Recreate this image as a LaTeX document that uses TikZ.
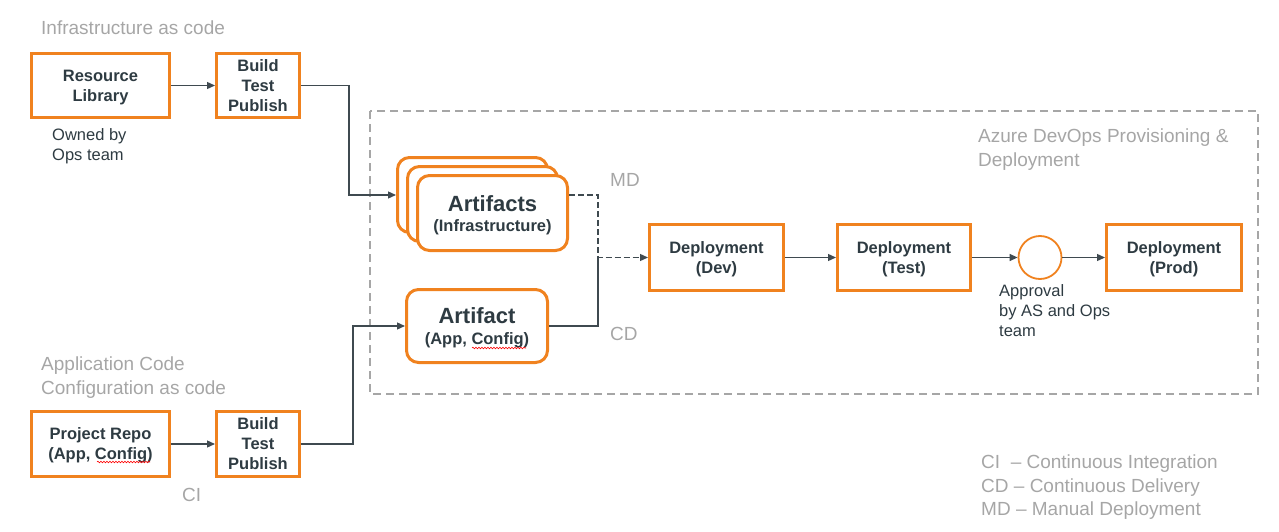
\documentclass[tikz,border=0pt]{standalone}
\usepackage{fontspec}
\setmainfont{Liberation Sans}
\usetikzlibrary{arrows.meta,decorations.pathmorphing}
\definecolor{orangeC}{HTML}{F0821F}
\definecolor{darkC}{HTML}{2E3B42}
\definecolor{grayC}{HTML}{A6A6A6}
\definecolor{lineC}{HTML}{3F4A50}
\tikzset{
  box/.style={draw=orangeC, line width=3pt, fill=white, text=darkC, font=\bfseries\fontsize{16.5}{20}\selectfont, align=center, inner sep=0pt},
  twoline/.style={box, text depth=0pt},
  rbox/.style={box, rounded corners=12pt},
  graytext/.style={text=grayC, font=\fontsize{19}{24}\selectfont, align=left, inner sep=0pt},
  note/.style={text=darkC, font=\fontsize{16.5}{20}\selectfont, align=left, inner sep=0pt},
  conn/.style={draw=lineC, line width=1.3pt},
  arr/.style={conn, -{Triangle[length=8pt,width=7pt]}},
  spell/.style={draw=red, line width=0.6pt, decorate, decoration={snake, segment length=3pt, amplitude=0.8pt}},
}
\begin{document}
\begin{tikzpicture}[x=1pt,y=-1pt]
\path[use as bounding box] (0,0) rectangle (1279,532);
% dashed frame
\draw[grayC, line width=2pt, dash pattern=on 8pt off 5pt] (370,111) rectangle (1258,394);
% texts
\node[graytext, anchor=west] (iac) at (41,28) {Infrastructure as code};
\node[graytext, anchor=north west] (acc) at (41,357) {Application Code\\Configuration as code};
\node[graytext, anchor=north west] (azd) at (978,129) {Azure DevOps Provisioning \&\\Deployment};
\node[note, anchor=north west] (own) at (52,128) {Owned by\\Ops team};
\node[note, anchor=north west] (appr) at (999,284) {Approval\\by AS and Ops\\team};
\node[graytext, anchor=west] (md) at (610,180) {MD};
\node[graytext, anchor=west] (cd) at (610,334) {CD};
\node[graytext, anchor=west] (ci) at (182,495) {CI};
\node[graytext, anchor=north west, font=\fontsize{19}{23.5}\selectfont] (leg) at (981,455) {CI\ \ – Continuous Integration\\CD – Continuous Delivery\\MD – Manual Deployment};
% boxes
\node[twoline, minimum width=138pt, minimum height=64pt] (rl) at (100.5,85.5) {Resource\\Library};
\node[box, minimum width=83pt, minimum height=64pt] (b1) at (258,85.5) {Build\\Test\\Publish};
\node[twoline, minimum width=138pt, minimum height=65pt] (pr) at (100.5,444) {Project Repo\\(App, Config)};
\node[box, minimum width=83pt, minimum height=65pt] (b2) at (258,444) {Build\\Test\\Publish};
\node[rbox, minimum width=150pt, minimum height=75pt] (artback) at (472.5,195) {};
\node[rbox, minimum width=150pt, minimum height=75pt] (artmid) at (482.5,204) {};
\node[rbox, minimum width=150pt, minimum height=75pt] (artfront) at (492.5,213) {};
\node[text=darkC, font=\bfseries\fontsize{22}{24}\selectfont, inner sep=0pt] (artfrontA) at (492.5,204) {Artifacts};
\node[text=darkC, font=\bfseries\fontsize{16.5}{20}\selectfont, inner sep=0pt] (artfrontB) at (492.5,227) {(Infrastructure)};
\node[rbox, minimum width=141pt, minimum height=73pt] (art) at (477,326) {};
\node[text=darkC, font=\bfseries\fontsize{22}{24}\selectfont, inner sep=0pt] (artA) at (477,316) {Artifact};
\node[text=darkC, font=\bfseries\fontsize{16.5}{20}\selectfont, inner sep=0pt] (artB) at (477,340) {(App, Config)};
\node[twoline, minimum width=134pt, minimum height=66pt] (dev) at (716.5,257.5) {Deployment\\(Dev)};
\node[twoline, minimum width=133pt, minimum height=66pt] (test) at (904,257.5) {Deployment\\(Test)};
\node[circle, draw=orangeC, line width=1.8pt, fill=white, minimum size=43pt, inner sep=0pt] (appc) at (1040,257.5) {};
\node[twoline, minimum width=135pt, minimum height=66pt] (prod) at (1174,257.5) {Deployment\\(Prod)};
% spell-check marks
\draw[spell] (97,462) -- (150,462);
\draw[spell] (472,348) -- (526,348);
% connectors
\coordinate (j) at (598,257.5);
\draw[arr] (rl) -- (b1);
\draw[arr] (pr) -- (b2);
\draw[arr] (b1.east) -- ++(48,0) |- (artback.west);
\draw[arr] (b2.east) -- ++(52,0) |- (art.west);
\draw[conn] (art.east) -| (j);
\draw[arr, dash pattern=on 6pt off 3pt] (artfront.east |- artback.center) -| (j) -- (dev.west);
\draw[arr] (dev) -- (test);
\draw[arr] (test) -- (appc);
\draw[arr] (appc) -- (prod);
\end{tikzpicture}
\end{document}
